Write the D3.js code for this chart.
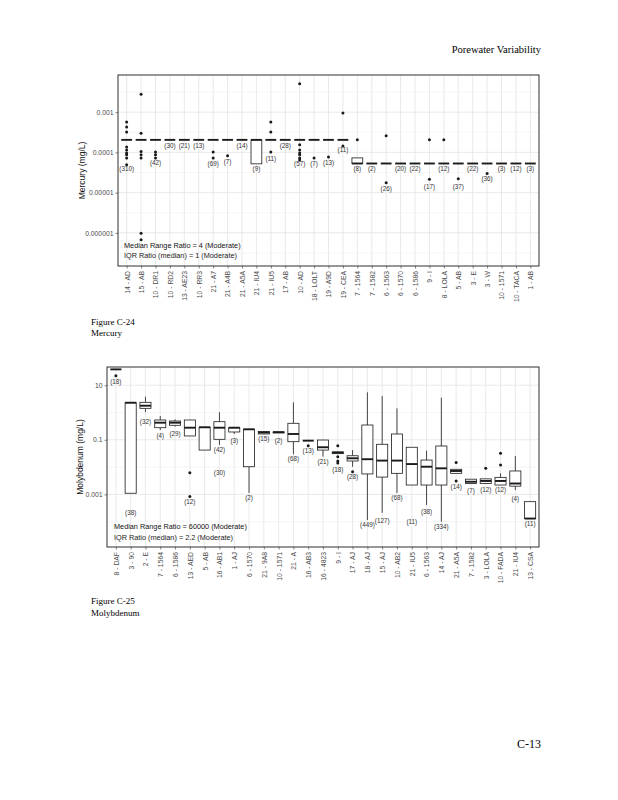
<!DOCTYPE html>
<html><head><meta charset="utf-8">
<script src="https://cdn.jsdelivr.net/npm/d3@7"></script>
<style>body{margin:0;background:#fff}svg{display:block}</style>
</head><body><svg id="page" width="618" height="800"></svg>
<script>
// ---------------- Mercury (Figure C-24) ----------------
const hgCategories = ["14 - AD","15 - AB","10 - DR1","10 - RD2","13 - AE23","10 - RR3","21 - A7","21 - A4B","21 - A5A","21 - IU4","21 - IU5","17 - AB","10 - AD","18 - LOLT","19 - A9D","19 - CEA","7 - 1564","7 - 1582","6 - 1563","6 - 1570","6 - 1586","9 - I","8 - LOLA","5 - AB","3 - E","3 - W","10 - 1571","10 - TACA","1 - AB"];
const hgQ1 = [2.05e-4,2.05e-4,2.05e-4,2.05e-4,2.05e-4,2.05e-4,2.05e-4,2.05e-4,2.05e-4,5.2e-5,2.05e-4,2.05e-4,2.05e-4,2.05e-4,2.05e-4,2.05e-4,5.3e-5,5.3e-5,5.3e-5,5.3e-5,5.3e-5,5.3e-5,5.3e-5,5.3e-5,5.3e-5,5.3e-5,5.3e-5,5.3e-5,5.3e-5];
const hgMedian = [2.05e-4,2.05e-4,2.05e-4,2.05e-4,2.05e-4,2.05e-4,2.05e-4,2.05e-4,2.05e-4,2.05e-4,2.05e-4,2.05e-4,2.05e-4,2.05e-4,2.05e-4,2.05e-4,5.3e-5,5.3e-5,5.3e-5,5.3e-5,5.3e-5,5.3e-5,5.3e-5,5.3e-5,5.3e-5,5.3e-5,5.3e-5,5.3e-5,5.3e-5];
const hgQ3 = [2.05e-4,2.05e-4,2.05e-4,2.05e-4,2.05e-4,2.05e-4,2.05e-4,2.05e-4,2.05e-4,2.05e-4,2.05e-4,2.05e-4,2.05e-4,2.05e-4,2.05e-4,2.05e-4,7.3e-5,5.3e-5,5.3e-5,5.3e-5,5.3e-5,5.3e-5,5.3e-5,5.3e-5,5.3e-5,5.3e-5,5.3e-5,5.3e-5,5.3e-5];
const hgLow = hgQ1;
const hgHigh = hgQ3;
const hgOutliers = [
  [5.7e-4,4.3e-4,3.2e-4,1.37e-4,1.15e-4,9.7e-5,8.7e-5,7.3e-5,4.9e-5],
  [2.8e-3,3.0e-4,1.05e-4,8.7e-5,7.3e-5,9.8e-7,6.7e-7],
  [1.03e-4,8.7e-5,7.3e-5],
  [],[],[],
  [1.03e-4,7.3e-5],
  [8.2e-5],
  [],[],
  [5.7e-4,3.2e-4,1.03e-4],
  [],
  [5.1e-3,1.54e-4,1.15e-4,9.7e-5,8.7e-5,7.3e-5,6.5e-5],
  [7.3e-5],
  [7.7e-5],
  [9.6e-4,1.45e-4],
  [2.05e-4],
  [],
  [2.6e-4,1.77e-5],
  [],[],
  [2.05e-4,2.15e-5],
  [2.05e-4],
  [2.2e-5],
  [],
  [3.0e-5],
  [],[],[]
];
const hgCounts = ["(310)","","(42)","(30)","(21)","(13)","(69)","(7)","(14)","(9)","(11)","(28)","(57)","(7)","(13)","(11)","(8)","(2)","(26)","(20)","(22)","(17)","(12)","(37)","(22)","(36)","(3)","(12)","(3)"];
const hgCountAt = [3.9e-5,4.2e-7,5.5e-5,1.45e-4,1.45e-4,1.45e-4,5.2e-5,5.8e-5,1.45e-4,3.9e-5,6.9e-5,1.45e-4,5.2e-5,5.2e-5,5.5e-5,1.15e-4,3.9e-5,3.9e-5,1.3e-5,3.9e-5,3.9e-5,1.4e-5,3.9e-5,1.4e-5,3.9e-5,2.2e-5,3.9e-5,3.9e-5,3.9e-5];
const hgTicks = [1e-3,1e-4,1e-5,1e-6];
const hgTickLabels = ["0.001","0.0001","0.00001","0.000001"];
const hgMinor = [Math.pow(10,-2.5),Math.pow(10,-3.5),Math.pow(10,-4.5),Math.pow(10,-5.5),Math.pow(10,-6.5)];
const hgDomain = [1.5e-7, 8.4e-3];
const hgNotes = ["Median Range Ratio = 4 (Moderate)","IQR Ratio (median) = 1 (Moderate)"];

// ---------------- Molybdenum (Figure C-25) ----------------
const moCategories = ["8 - DAF","3 - 90","2 - E","7 - 1564","6 - 1586","13 - AED","5 - AB","16 - AB1","1 - AJ","6 - 1570","21 - 9A8","10 - 1571","21 - A","16 - AB3","16 - 4823","9 - I","17 - AJ","18 - AJ","15 - AJ","10 - AB2","21 - IU5","6 - 1563","14 - AJ","21 - A5A","7 - 1582","3 - LOLA","10 - FADA","21 - IU4","13 - CSA"];
const moQ1 = [38,1.1e-3,1.42,0.277,0.34,0.138,0.042,0.104,0.193,0.0103,0.163,0.178,0.085,0.0928,0.042,0.031,0.0167,5.6e-3,4.3e-3,5.9e-3,2.2e-3,2.2e-3,2.2e-3,5.9e-3,2.5e-3,2.5e-3,2.2e-3,2.0e-3,1.3e-4];
const moMedian = [38,2.28,1.77,0.423,0.423,0.277,0.287,0.277,0.277,0.242,0.185,0.19,0.163,0.0928,0.0532,0.0338,0.021,0.0194,0.0173,0.0173,0.0129,0.0103,9.0e-3,7.2e-3,2.9e-3,3.1e-3,3.1e-3,2.5e-3,1.3e-4];
const moQ3 = [38,2.28,2.36,0.531,0.488,0.531,0.287,0.46,0.277,0.242,0.2,0.193,0.402,0.0928,0.098,0.036,0.026,0.348,0.0684,0.163,0.0532,0.0181,0.0592,8.3e-3,3.6e-3,3.7e-3,4.2e-3,7.2e-3,5.4e-4];
const moLow = [38,1.1e-3,1.04,0.228,0.302,0.138,0.042,0.0645,0.163,1.13e-3,0.163,0.178,0.0295,0.0928,0.024,0.031,0.0103,1.15e-4,2.1e-4,1.13e-3,2.2e-3,4.1e-4,1.0e-4,5.9e-3,2.5e-3,2.5e-3,2.2e-3,1.45e-3,1.3e-4];
const moHigh = [38,2.28,3.79,0.744,0.563,0.531,0.287,1.02,0.277,0.242,0.2,0.193,2.36,0.0928,0.098,0.036,0.042,5.49,4.02,1.42,0.0532,0.04,3.48,8.3e-3,3.6e-3,3.7e-3,5.9e-3,0.0254,5.4e-4];
const moOutliers = [
  [22.3],[],[],[],[],
  [6.2e-3,8.3e-4],
  [],[],[],[],[],[],[],
  [0.0607],
  [],
  [0.0607,0.024,0.0167,0.0141],
  [6.8e-3],
  [],[],[],[],[],[],
  [0.0146,3.1e-3],
  [],
  [9.0e-3],
  [0.0321,0.0119],
  [],[]
];
const moCounts = ["(18)","(38)","(32)","(4)","(29)","(12)","(30)","(42)","(3)","(2)","(15)","(2)","(68)","(13)","(21)","(18)","(28)","(449)","(127)","(68)","(11)","(38)","(334)","(14)","(7)","(12)","(12)","(4)","(11)"];
const moCountAt = [13.1,2.08e-4,0.46,0.138,0.173,5.4e-4,6.1e-3,0.0423,0.098,7.4e-4,0.107,0.093,0.0198,0.0389,0.0158,8.5e-3,4.7e-3,7.6e-5,1.09e-4,7.4e-4,1.0e-4,2.3e-4,6.4e-5,1.9e-3,1.37e-3,1.45e-3,1.45e-3,7.2e-4,8.9e-5];
const moCountDx = [0,0,0,0,0,0,1,0,0,0,0,0,0,0,0,0,0,0,0,0,0,0,0,0,0,0,0,0,0];
const moTicks = [10,0.1,0.001];
const moTickLabels = ["10","0.1","0.001"];
const moMinor = [1,0.01,1e-4];
const moDomain = [1.18e-5, 46.4];
const moNotes = ["Median Range Ratio = 60000 (Moderate)","IQR Ratio (median) = 2.2 (Moderate)"];

// ---------------- drawing ----------------
const svg = d3.select("#page");
svg.append("rect").attr("width",618).attr("height",800).attr("fill","#fff");
const SANS = "Liberation Sans, Arial, sans-serif";
const SERIF = "Liberation Serif, Times New Roman, serif";

function drawBoxChart(cfg) {
  const {left, right, top, bottom} = cfg;
  const g = svg.append("g");
  const x = d3.scalePoint().domain(cfg.categories).range([left, right]).padding(0.6);
  const y = d3.scaleLog().domain(cfg.domain).range([bottom, top]);
  const step = x.step();
  const bw = step * 0.75;

  const grid = g.append("g");
  grid.selectAll(".minor").data(cfg.minor).join("line")
    .attr("x1", left).attr("x2", right).attr("y1", d => y(d)).attr("y2", d => y(d))
    .attr("stroke", "#f0f0f0").attr("stroke-width", 0.6);
  grid.selectAll(".major").data(cfg.ticks).join("line")
    .attr("x1", left).attr("x2", right).attr("y1", d => y(d)).attr("y2", d => y(d))
    .attr("stroke", "#e6e6e6").attr("stroke-width", 0.9);
  grid.selectAll(".vmajor").data(cfg.categories).join("line")
    .attr("x1", d => x(d)).attr("x2", d => x(d)).attr("y1", top).attr("y2", bottom)
    .attr("stroke", "#e6e6e6").attr("stroke-width", 0.9);

  const rows = cfg.categories.map((c, i) => ({
    c, q1: cfg.q1[i], med: cfg.median[i], q3: cfg.q3[i], lo: cfg.low[i], hi: cfg.high[i],
    out: cfg.outliers[i], n: cfg.counts[i], nAt: cfg.countAt[i], dx: cfg.countDx ? cfg.countDx[i] : 0
  }));

  const boxes = g.append("g").attr("stroke", "#1a1a1a").attr("fill", "none");
  boxes.selectAll(".wu").data(rows.filter(r => r.hi > r.q3)).join("line")
    .attr("x1", r => x(r.c)).attr("x2", r => x(r.c)).attr("y1", r => y(r.q3)).attr("y2", r => y(r.hi))
    .attr("stroke-width", 0.8);
  boxes.selectAll(".wl").data(rows.filter(r => r.lo < r.q1)).join("line")
    .attr("x1", r => x(r.c)).attr("x2", r => x(r.c)).attr("y1", r => y(r.q1)).attr("y2", r => y(r.lo))
    .attr("stroke-width", 0.8);
  boxes.selectAll("rect").data(rows).join("rect")
    .attr("x", r => x(r.c) - bw / 2).attr("width", bw)
    .attr("y", r => y(r.q3)).attr("height", r => Math.max(0, y(r.q1) - y(r.q3)))
    .attr("fill", "#fff").attr("stroke-width", 0.8);
  boxes.selectAll(".med").data(rows).join("line")
    .attr("x1", r => x(r.c) - bw / 2).attr("x2", r => x(r.c) + bw / 2)
    .attr("y1", r => y(r.med)).attr("y2", r => y(r.med))
    .attr("stroke-width", 1.9);
  const pts = rows.flatMap(r => r.out.map(v => ({c: r.c, v})));
  g.append("g").selectAll("circle").data(pts).join("circle")
    .attr("cx", p => x(p.c)).attr("cy", p => y(p.v)).attr("r", 1.5).attr("fill", "#1a1a1a");
  g.append("g").selectAll("text").data(rows.filter(r => r.n)).join("text")
    .attr("x", r => x(r.c) + r.dx * step).attr("y", r => y(r.nAt))
    .attr("text-anchor", "middle").attr("dominant-baseline", "central")
    .attr("font-family", SANS).attr("font-size", 6.3).attr("fill", "#333")
    .text(r => r.n);

  g.append("g").selectAll("text").data(cfg.notes).join("text")
    .attr("x", left + cfg.noteDx).attr("y", (d, i) => cfg.noteY + i * cfg.noteGap)
    .attr("dominant-baseline", "central")
    .attr("font-family", SANS).attr("font-size", 7.3).attr("fill", (d, i) => i === 0 ? "#111" : "#222")
    .text(d => d);

  g.append("rect").attr("x", left).attr("y", top).attr("width", right - left).attr("height", bottom - top)
    .attr("fill", "none").attr("stroke", "#1a1a1a").attr("stroke-width", 0.9);

  const ya = g.append("g").attr("transform", `translate(${left},0)`)
    .call(d3.axisLeft(y).tickValues(cfg.ticks).tickFormat((d, i) => cfg.tickLabels[i]).tickSize(2.5).tickPadding(2));
  ya.select(".domain").remove();
  ya.selectAll("line").attr("stroke", "#333").attr("stroke-width", 0.6);
  ya.selectAll("text").attr("font-family", SANS).attr("font-size", 6.8).attr("fill", "#4d4d4d");

  const xa = g.append("g").attr("transform", `translate(0,${bottom})`)
    .call(d3.axisBottom(x).tickSize(2.5).tickPadding(2));
  xa.select(".domain").remove();
  xa.selectAll("line").attr("stroke", "#333").attr("stroke-width", 0.6);
  xa.selectAll("text")
    .attr("transform", "rotate(-90)").attr("x", -5).attr("y", 0).attr("dy", "0.35em")
    .style("text-anchor", "end")
    .attr("font-family", SANS).attr("font-size", 6.8).attr("fill", "#4d4d4d");

  g.append("text").attr("transform", `translate(${cfg.titleX},${(top + bottom) / 2}) rotate(-90)`)
    .attr("text-anchor", "middle").attr("dominant-baseline", "central")
    .attr("font-family", SANS).attr("font-size", 8.5).attr("fill", "#111")
    .text(cfg.title);
}

drawBoxChart({
  left: 118, right: 539, top: 75, bottom: 266,
  categories: hgCategories, q1: hgQ1, median: hgMedian, q3: hgQ3, low: hgLow, high: hgHigh,
  outliers: hgOutliers, counts: hgCounts, countAt: hgCountAt,
  ticks: hgTicks, tickLabels: hgTickLabels, minor: hgMinor, domain: hgDomain,
  notes: hgNotes, noteDx: 6, noteY: 245, noteGap: 10.5,
  title: "Mercury (mg/L)", titleX: 82
});

drawBoxChart({
  left: 107, right: 539, top: 367, bottom: 547,
  categories: moCategories, q1: moQ1, median: moMedian, q3: moQ3, low: moLow, high: moHigh,
  outliers: moOutliers, counts: moCounts, countAt: moCountAt, countDx: moCountDx,
  ticks: moTicks, tickLabels: moTickLabels, minor: moMinor, domain: moDomain,
  notes: moNotes, noteDx: 7, noteY: 526, noteGap: 11,
  title: "Molybdenum (mg/L)", titleX: 80
});

svg.append("text").attr("x", 541).attr("y", 53).attr("text-anchor", "end")
  .attr("font-family", SERIF).attr("font-size", 10.5).attr("fill", "#000").text("Porewater Variability");
svg.append("text").attr("x", 91).attr("y", 325).attr("font-family", SERIF).attr("font-size", 9).attr("fill", "#000").text("Figure C-24");
svg.append("text").attr("x", 91).attr("y", 336).attr("font-family", SERIF).attr("font-size", 9).attr("fill", "#000").text("Mercury");
svg.append("text").attr("x", 91).attr("y", 604).attr("font-family", SERIF).attr("font-size", 9).attr("fill", "#000").text("Figure C-25");
svg.append("text").attr("x", 91).attr("y", 616).attr("font-family", SERIF).attr("font-size", 9).attr("fill", "#000").text("Molybdenum");
svg.append("text").attr("x", 541).attr("y", 748).attr("text-anchor", "end")
  .attr("font-family", SERIF).attr("font-size", 12).attr("fill", "#000").text("C-13");
</script></body></html>
